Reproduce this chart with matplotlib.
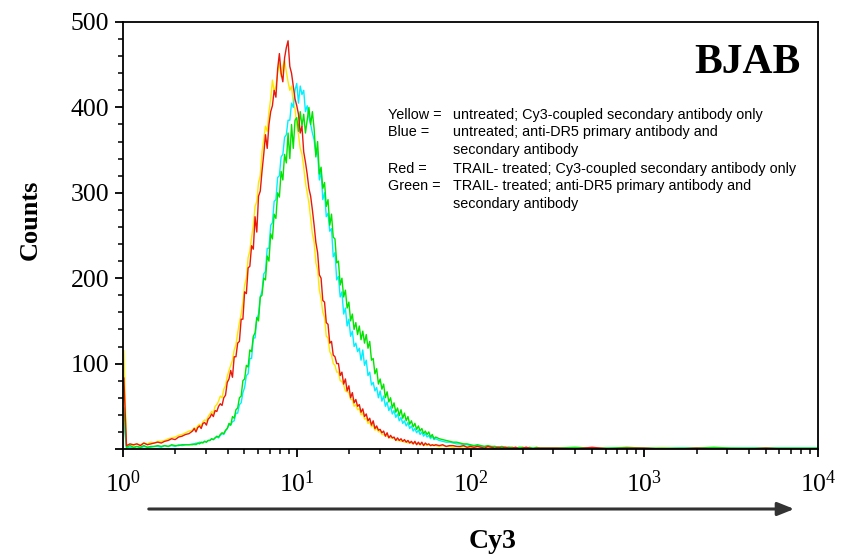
import numpy as np
import matplotlib
matplotlib.use("Agg")
import matplotlib.pyplot as plt
from matplotlib.ticker import FixedLocator, FuncFormatter, LogLocator, NullFormatter
from matplotlib.patches import FancyArrowPatch

# ---- data: log10 of Cy3 channel value (histogram channels), and counts per series ----
log_channel = ([0.005] + [round(0.02 * i, 2) for i in range(1, 20)]          # 0.00 .. 0.38
               + [round(0.40 + 0.01 * i, 2) for i in range(141)]             # 0.40 .. 1.80
               + [round(1.82 + 0.02 * i, 2) for i in range(30)]              # 1.82 .. 2.40
               + [round(2.5 + 0.1 * i, 1) for i in range(16)])               # 2.5 .. 4.0

yellow_counts = [
    # 0.00 - 0.38
    115, 3, 5, 4, 6, 5, 7, 6, 8, 7, 9, 9, 10, 12, 13, 14, 16, 17, 19, 21,
    # 0.40 - 1.80
    22, 25, 23, 27, 29, 27, 32, 34, 33, 38,
    41, 44, 42, 50, 52, 56, 62, 60, 70, 74,
    85, 92, 98, 104, 116, 122, 136, 148, 158, 172,
    192, 200, 224, 232, 248, 262, 284, 290, 312, 320,
    348, 362, 378, 372, 395, 410, 432, 418, 425, 440,
    452, 436, 448, 455, 442, 430, 420, 425, 405, 398,
    380, 368, 352, 345, 330, 312, 300, 288, 270, 252,
    242, 218, 210, 186, 176, 160, 154, 132, 130, 114,
    110, 100, 98, 90, 90, 80, 79, 75, 68, 67,
    66, 58, 58, 50, 52, 46, 47, 40, 42, 35,
    36, 30, 32, 26, 28, 22, 25, 20, 21, 17,
    17, 16, 15, 14, 13, 13, 12, 11, 10, 10,
    9, 9, 8, 9, 7, 8, 7, 6, 7, 6,
    6, 5, 6, 5, 5, 4, 5, 4, 4, 5, 4,
    # 1.82 - 2.40
    3, 4, 3, 3, 2, 3, 2, 3, 2, 2, 1, 3, 2, 1, 2, 2, 0, 2, 1, 1,
    0, 2, 1, 0, 2, 1, 1, 0, 1, 0,
    # 2.5 - 4.0
    0, 1, 0, 1, 0, 0, 1, 0, 0, 0, 1, 0, 0, 0, 0, 0,
]

blue_counts = [
    30, 1, 2, 1, 3, 1, 3, 2, 2, 3, 3, 2, 4, 3, 4, 3, 5, 4, 5, 5,
    6, 5, 7, 6, 8, 7, 8, 9, 8, 10,
    10, 12, 11, 13, 14, 13, 16, 18, 17, 21,
    24, 28, 28, 32, 33, 42, 42, 52, 54, 66,
    72, 86, 88, 106, 106, 130, 130, 152, 158, 178,
    185, 205, 208, 235, 235, 262, 265, 290, 292, 318,
    320, 342, 345, 365, 368, 385, 385, 405, 400, 420,
    428, 405, 425, 415, 420, 395, 402, 388, 380, 370,
    362, 345, 348, 315, 325, 292, 300, 272, 276, 255,
    258, 225, 230, 198, 202, 178, 184, 158, 165, 144,
    152, 132, 138, 120, 124, 114, 118, 104, 116, 98,
    104, 86, 90, 75, 78, 68, 72, 60, 68, 56,
    62, 50, 55, 45, 50, 41, 45, 37, 41, 33,
    37, 30, 33, 27, 31, 24, 27, 21, 24, 19,
    22, 17, 20, 15, 18, 14, 16, 12, 15, 11, 12,
    10, 9, 8, 8, 7, 6, 6, 5, 5, 4, 4, 4, 3, 3, 3, 2, 3, 2, 2, 1,
    2, 1, 2, 1, 1, 2, 1, 1, 1, 1,
    1, 1, 0, 1, 1, 1, 0, 1, 1, 1, 1, 1, 1, 1, 1, 1,
]

green_counts = [
    48, 2, 4, 2, 3, 2, 4, 2, 3, 3, 4, 3, 4, 3, 5, 4, 4, 5, 5, 5,
    5, 6, 5, 7, 6, 8, 7, 9, 8, 10,
    10, 12, 11, 13, 15, 14, 17, 19, 18, 22,
    24, 30, 28, 38, 36, 46, 48, 60, 62, 80,
    82, 98, 96, 116, 114, 132, 136, 154, 150, 178,
    180, 200, 198, 226, 220, 252, 246, 275, 270, 300,
    295, 325, 315, 345, 335, 370, 340, 380, 352, 385,
    388, 372, 395, 378, 392, 370, 385, 400, 380, 395,
    375, 342, 360, 322, 330, 305, 312, 284, 292, 262,
    275, 248, 246, 218, 220, 192, 200, 178, 186, 165,
    172, 150, 158, 140, 148, 134, 144, 128, 138, 124,
    134, 118, 126, 104, 106, 88, 94, 76, 82, 70,
    76, 60, 67, 55, 60, 48, 54, 43, 48, 39,
    46, 36, 42, 33, 38, 29, 33, 26, 30, 23,
    27, 21, 24, 18, 21, 17, 20, 14, 17, 12, 14,
    12, 11, 10, 9, 8, 8, 7, 6, 6, 5, 4, 5, 4, 3, 4, 3, 3, 2, 3, 2,
    2, 2, 1, 2, 2, 1, 2, 1, 2, 1,
    1, 2, 1, 1, 2, 1, 1, 1, 1, 2, 1, 1, 1, 1, 1, 1,
]

red_counts = [
    83, 4, 6, 5, 6, 4, 7, 5, 6, 7, 8, 7, 9, 10, 12, 11, 14, 15, 17, 18,
    21, 24, 20, 25, 27, 24, 30, 31, 28, 35,
    37, 41, 38, 45, 44, 50, 53, 51, 60, 63,
    78, 82, 92, 84, 108, 108, 124, 126, 152, 152,
    184, 182, 212, 214, 238, 234, 272, 254, 296, 302,
    325, 345, 368, 352, 380, 395, 402, 420, 412, 445,
    463, 440, 430, 458, 470, 478, 448, 440, 425, 410,
    402, 392, 370, 378, 348, 336, 322, 305, 296, 280,
    262, 242, 230, 204, 200, 174, 172, 148, 146, 124,
    126, 110, 108, 100, 100, 86, 90, 76, 82, 68,
    74, 60, 66, 54, 58, 50, 52, 43, 47, 38,
    41, 33, 36, 28, 33, 24, 27, 22, 23, 19,
    21, 15, 19, 13, 16, 13, 14, 10, 13, 10,
    12, 9, 11, 8, 10, 7, 9, 6, 9, 5,
    8, 5, 8, 4, 7, 5, 6, 4, 5, 4, 5,
    4, 5, 3, 4, 4, 3, 3, 4, 2, 3, 2, 3, 2, 1, 3, 2, 1, 2, 1, 2,
    1, 1, 2, 0, 1, 2, 1, 0, 1, 1,
    1, 0, 2, 0, 1, 1, 0, 0, 1, 0, 0, 0, 1, 0, 0, 0,
]

for _s in (yellow_counts, blue_counts, green_counts, red_counts):
    assert len(_s) == len(log_channel)

series_colors = ["#FFE800", "#00F0FF", "#00E400", "#E8180C"]

y_ticks = [0, 100, 200, 300, 400, 500]
x_ticks = [1, 10, 100, 1000, 10000]

legend_lines = [
    ("Yellow =", "untreated; Cy3-coupled secondary antibody only"),
    ("Blue =", "untreated; anti-DR5 primary antibody and"),
    ("", "secondary antibody"),
    ("Red =", "TRAIL- treated; Cy3-coupled secondary antibody only"),
    ("Green =", "TRAIL- treated; anti-DR5 primary antibody and"),
    ("", "secondary antibody"),
]

# ---- figure ----
plt.rcParams["mathtext.fontset"] = "custom"
plt.rcParams["mathtext.rm"] = "Liberation Serif"
plt.rcParams["mathtext.it"] = "Liberation Serif:italic"
plt.rcParams["mathtext.bf"] = "Liberation Serif:bold"

W, H = 843, 556
fig = plt.figure(figsize=(W / 100, H / 100), dpi=100)
ax = fig.add_axes([123 / W, 1 - 449 / H, (818 - 123) / W, (449 - 22) / H])

x_vals = np.power(10.0, np.array(log_channel))
for counts, col in zip([yellow_counts, blue_counts, green_counts, red_counts], series_colors):
    ax.plot(x_vals, counts, color=col, lw=1.0)

ax.set_xscale("log")
ax.set_xlim(1, 1e4)
ax.set_ylim(0, 500)

ax.xaxis.set_major_locator(FixedLocator(x_ticks))
ax.xaxis.set_major_formatter(FuncFormatter(lambda v, p: r"$10^{%d}$" % int(round(np.log10(v)))))
ax.xaxis.set_minor_locator(LogLocator(base=10, subs=np.arange(2, 10), numticks=20))
ax.xaxis.set_minor_formatter(NullFormatter())

ax.yaxis.set_major_locator(FixedLocator(y_ticks))
ax.yaxis.set_major_formatter(FuncFormatter(lambda v, p: "" if v == 0 else "%d" % v))
ax.yaxis.set_minor_locator(FixedLocator(list(range(0, 501, 20))))

for s in ax.spines.values():
    s.set_linewidth(1.3)
ax.tick_params(axis="both", which="major", direction="out", length=6, width=1.3,
               labelsize=18.5, pad=4)
ax.tick_params(axis="both", which="minor", direction="out", length=3.5, width=1.1)
ax.tick_params(axis="x", which="major", pad=10)
for lab in ax.get_yticklabels():
    lab.set_fontfamily("Liberation Serif")

fig.text(30 / W, 1 - 220 / H, "Counts", rotation=90, ha="center", va="center",
         fontsize=19, fontweight="bold", fontfamily="Liberation Serif")
fig.text(493 / W, 1 - 541 / H, "Cy3", ha="center", va="center",
         fontsize=20, fontweight="bold", fontfamily="Liberation Serif")

ax.text(0.975, 0.905, "BJAB", transform=ax.transAxes, ha="right", va="center",
        fontsize=30, fontweight="bold", fontfamily="Liberation Serif")

leg_y = [115, 132, 150, 169, 186, 204]
for (lab, desc), yy in zip(legend_lines, leg_y):
    if lab:
        fig.text(388 / W, 1 - yy / H, lab, ha="left", va="center", fontsize=10.4,
                 fontfamily="Liberation Sans")
    fig.text(453 / W, 1 - yy / H, desc, ha="left", va="center", fontsize=10.4,
             fontfamily="Liberation Sans")

arrow = FancyArrowPatch((146 / W, 1 - 509 / H), (797 / W, 1 - 509 / H),
                        transform=fig.transFigure, arrowstyle="-|>,head_length=10,head_width=4",
                        mutation_scale=1, color="#333333", lw=2.2)
fig.add_artist(arrow)

fig.savefig("out.png", dpi=100)
